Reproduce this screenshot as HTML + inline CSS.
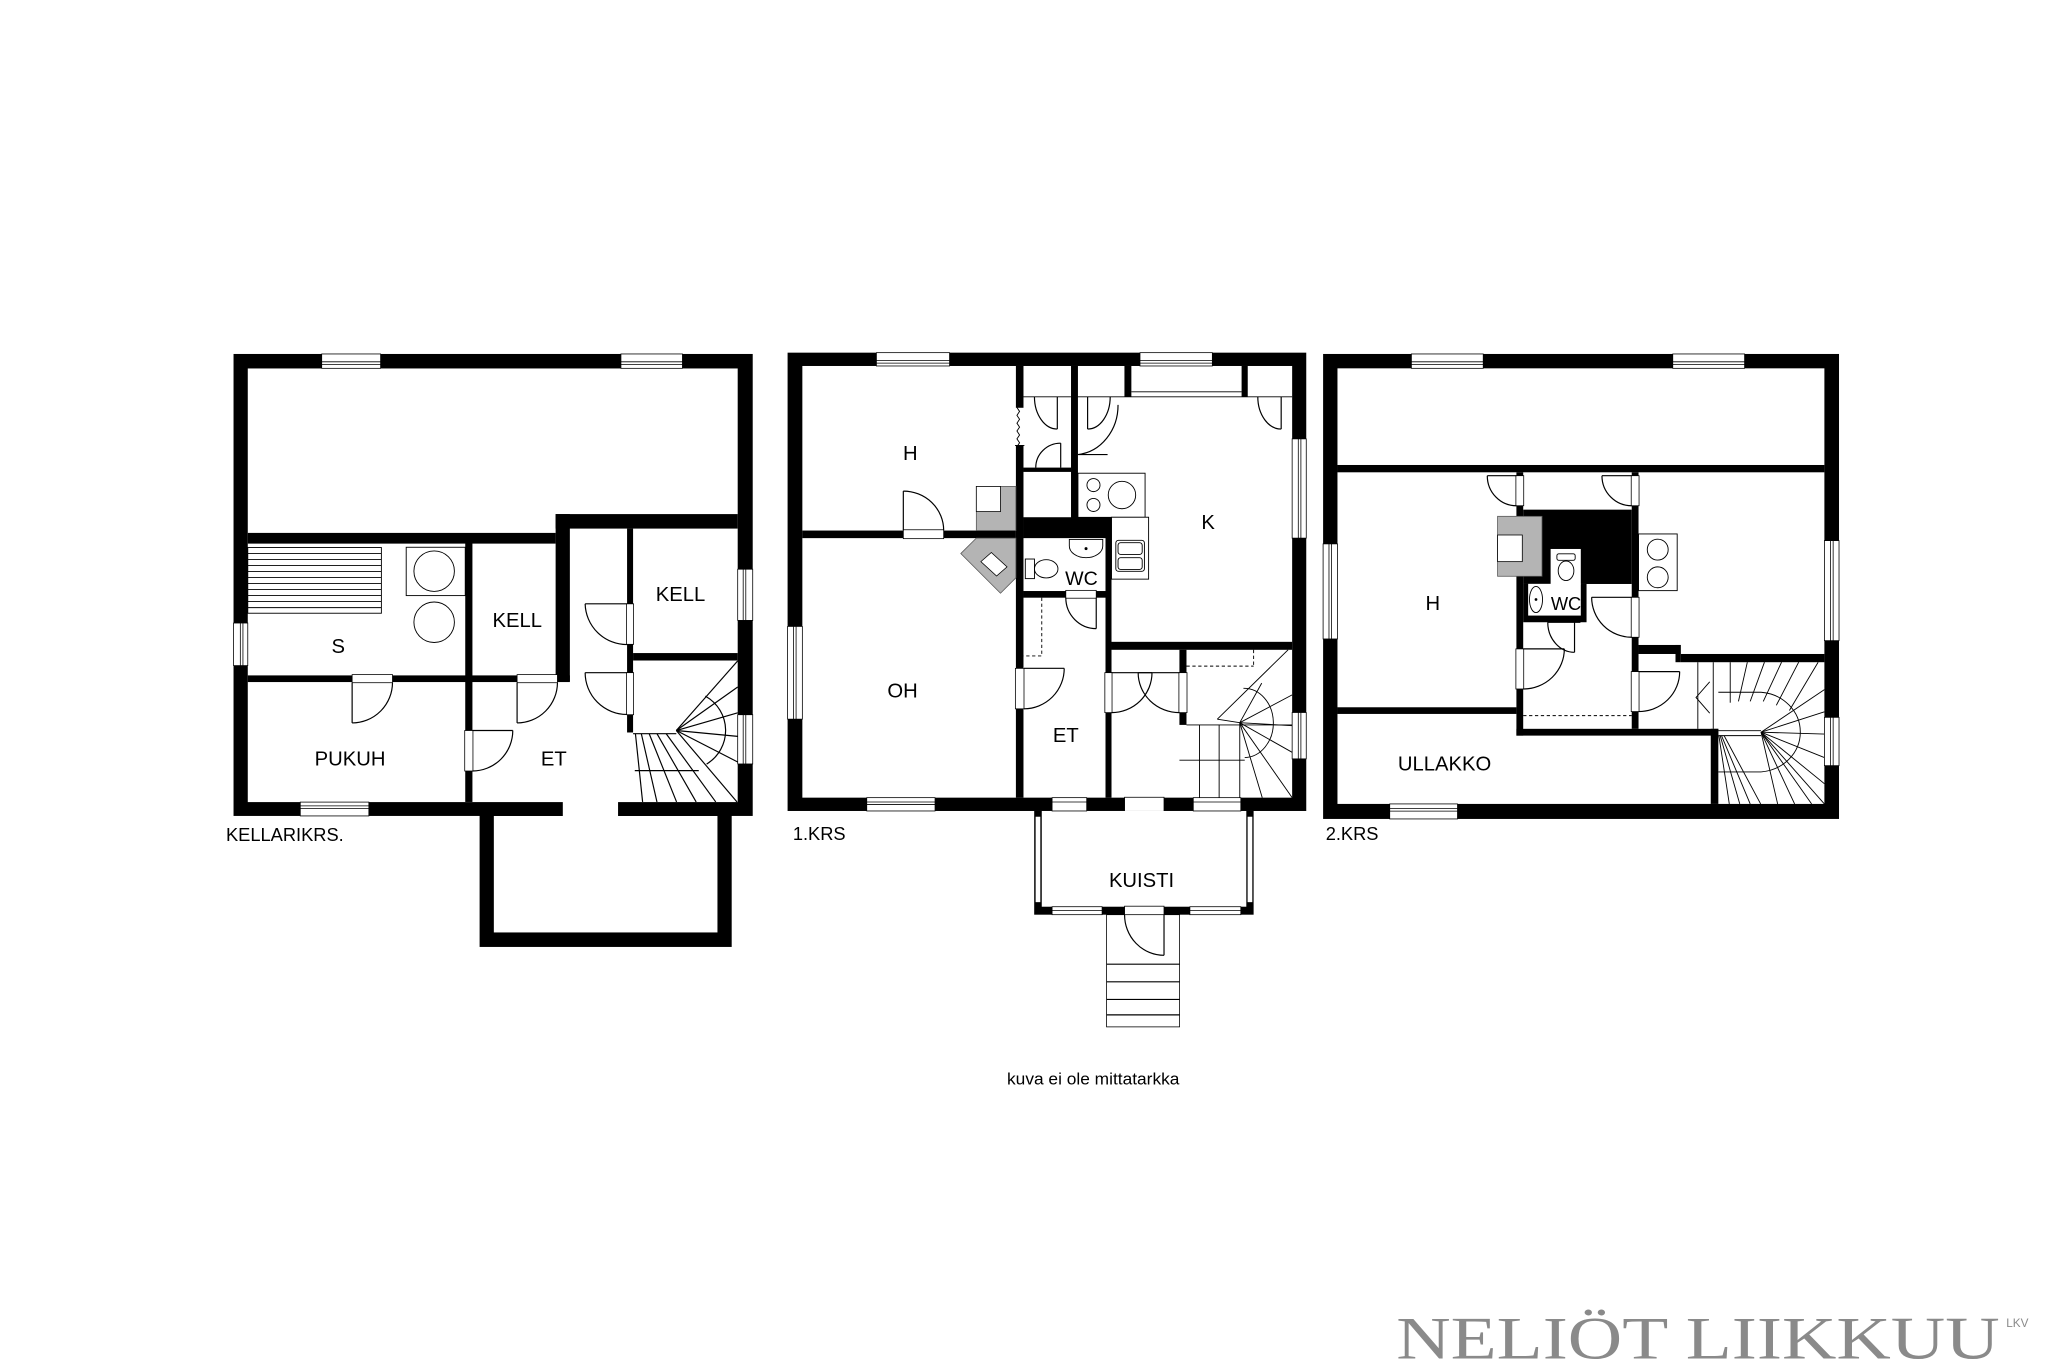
<!DOCTYPE html>
<html><head><meta charset="utf-8"><style>
html,body{margin:0;padding:0;background:#fff;}
svg{display:block;}
text{font-family:"Liberation Sans",Arial,sans-serif;fill:#000;}
</style></head><body>
<svg width="2048" height="1365" viewBox="0 0 1568 1045.07" xmlns="http://www.w3.org/2000/svg">
<rect width="1568" height="1046" fill="#fff"/>
<g stroke-linecap="butt">
<!-- ============ KELLARI ============ -->
<rect x="367.2" y="614" width="193" height="111" fill="#000"/>
<rect x="378.1" y="624.7" width="171.2" height="89.2" fill="#fff"/>
<rect x="178.8" y="271" width="397.5" height="353.7" fill="#000"/>
<rect x="189.7" y="282.1" width="375.1" height="332" fill="#fff"/>
<rect x="430.9" y="613" width="42.3" height="12.5" fill="#fff"/>
<rect x="189.7" y="408" width="235.7" height="8.2" fill="#000"/>
<rect x="425.4" y="393.6" width="10.9" height="128" fill="#000"/>
<rect x="425.4" y="393.6" width="139.4" height="11.1" fill="#000"/>
<rect x="356.2" y="416" width="5.5" height="198" fill="#000"/>
<rect x="189.7" y="517.1" width="246.6" height="5.1" fill="#000"/>
<rect x="480.1" y="404.7" width="4.6" height="156.1" fill="#000"/>
<rect x="484.7" y="500" width="80.1" height="5.7" fill="#000"/>
<!-- benches -->
<g stroke="#000" stroke-width="0.7" fill="none">
<rect x="189.7" y="419.2" width="102.3" height="50.3" fill="#fff"/>
<line x1="189.7" y1="423.8" x2="292" y2="423.8"/><line x1="189.7" y1="428.4" x2="292" y2="428.4"/>
<line x1="189.7" y1="433" x2="292" y2="433"/><line x1="189.7" y1="437.6" x2="292" y2="437.6"/>
<line x1="189.7" y1="442.2" x2="292" y2="442.2"/><line x1="189.7" y1="446.8" x2="292" y2="446.8"/>
<line x1="189.7" y1="451.4" x2="292" y2="451.4"/><line x1="189.7" y1="456" x2="292" y2="456"/>
<line x1="189.7" y1="460.6" x2="292" y2="460.6"/><line x1="189.7" y1="465.2" x2="292" y2="465.2"/>
<rect x="311" y="419" width="45.2" height="37"/>
<circle cx="332.4" cy="437.3" r="15.5"/><circle cx="332.4" cy="476.4" r="15.5"/>
<!-- doors -->
</g>
<rect x="269.6" y="516.5" width="30.9" height="6.2" fill="#fff" stroke="#000" stroke-width="0.6"/>
<rect x="395.9" y="516.5" width="30.9" height="6.2" fill="#fff" stroke="#000" stroke-width="0.6"/>
<rect x="355.8" y="559.3" width="6.3" height="31" fill="#fff" stroke="#000" stroke-width="0.6"/>
<rect x="479.7" y="462.3" width="5.4" height="31" fill="#fff" stroke="#000" stroke-width="0.6"/>
<rect x="479.7" y="515" width="5.4" height="32.2" fill="#fff" stroke="#000" stroke-width="0.6"/>
<g stroke="#000" stroke-width="0.9" fill="none">
<line x1="269.6" y1="522.7" x2="269.6" y2="553.5"/><path d="M300.5,522.7 A31,31 0 0 1 269.6,553.5"/>
<line x1="395.9" y1="522.7" x2="395.9" y2="553.5"/><path d="M426.8,522.7 A31,31 0 0 1 395.9,553.5"/>
<line x1="361.7" y1="559.3" x2="392.6" y2="559.3"/><path d="M392.6,559.3 A31,31 0 0 1 361.7,590.3"/>
<line x1="480" y1="462.3" x2="448" y2="462.3"/><path d="M448,462.3 A32,32 0 0 0 480,493.5"/>
<line x1="480" y1="515" x2="448" y2="515"/><path d="M448,515 A32,32 0 0 0 480,547"/>
<!-- stairs -->
<line x1="484.7" y1="561.7" x2="517.8" y2="561.7"/>
<line x1="517.8" y1="559.3" x2="564.8" y2="506"/>
<line x1="517.8" y1="559.3" x2="564.8" y2="526"/>
<line x1="517.8" y1="559.3" x2="564.8" y2="545.7"/>
<line x1="517.8" y1="559.3" x2="564.8" y2="563.8"/>
<line x1="517.8" y1="559.3" x2="564.8" y2="583.4"/>
<line x1="517.8" y1="559.3" x2="564.3" y2="614"/>
<line x1="510" y1="561.7" x2="548" y2="614"/>
<line x1="503" y1="561.7" x2="533" y2="614"/>
<line x1="497" y1="561.7" x2="518" y2="614"/>
<line x1="491" y1="561.7" x2="503" y2="614"/>
<line x1="486.5" y1="561.7" x2="492" y2="614"/>
<line x1="486" y1="590" x2="535" y2="590"/>
<path d="M540,533 A30,30 0 0 1 541,585"/>
</g>
<!-- windows kellari -->
<g fill="#fff" stroke="#000" stroke-width="0.6">
<rect x="246.3" y="271" width="45.1" height="11"/><line x1="246.3" y1="277" x2="291.4" y2="277"/><line x1="246.3" y1="279" x2="291.4" y2="279"/>
<rect x="475.4" y="271" width="47.1" height="11"/><line x1="475.4" y1="277" x2="522.5" y2="277"/><line x1="475.4" y1="279" x2="522.5" y2="279"/>
<rect x="178.8" y="477" width="10.9" height="32.6"/><line x1="184" y1="477" x2="184" y2="509.6"/><line x1="186" y1="477" x2="186" y2="509.6"/>
<rect x="564.8" y="435.8" width="11.5" height="39.2"/><line x1="569" y1="435.8" x2="569" y2="475"/><line x1="571" y1="435.8" x2="571" y2="475"/>
<rect x="564.8" y="547.2" width="11.5" height="37.7"/><line x1="569" y1="547.2" x2="569" y2="584.9"/><line x1="571" y1="547.2" x2="571" y2="584.9"/>
<rect x="229.9" y="614.1" width="52.5" height="10.6"/><line x1="229.9" y1="617" x2="282.4" y2="617"/><line x1="229.9" y1="619" x2="282.4" y2="619"/>
</g>
<g font-size="15.5" text-anchor="middle">
<text x="259" y="500">S</text>
<text x="396" y="480">KELL</text>
<text x="521" y="460">KELL</text>
<text x="268" y="586">PUKUH</text>
<text x="424" y="586">ET</text>
</g>
<text x="173" y="644" font-size="14">KELLARIKRS.</text>

<!-- ============ 1.KRS ============ -->
<rect x="603" y="270" width="397.1" height="350.9" fill="#000"/>
<rect x="614.3" y="280.2" width="375" height="330.5" fill="#fff"/>
<rect x="614.3" y="406.2" width="163.5" height="5.8" fill="#000"/>
<rect x="777.8" y="280.2" width="5.8" height="32" fill="#000"/>
<rect x="777.8" y="341" width="5.8" height="269.7" fill="#000"/>
<rect x="820" y="280.2" width="5.3" height="116" fill="#000"/>
<rect x="860.9" y="280.2" width="5.3" height="23.6" fill="#000"/>
<rect x="950.6" y="280.2" width="4.7" height="23.6" fill="#000"/>
<rect x="783.6" y="358" width="36.4" height="3.3" fill="#000"/>
<rect x="783.6" y="396" width="67.4" height="16" fill="#000"/>
<rect x="783.6" y="452.5" width="62.8" height="5.1" fill="#000"/>
<rect x="846.4" y="396" width="4.6" height="214.7" fill="#000"/>
<rect x="851" y="491.4" width="138.3" height="6.1" fill="#000"/>
<rect x="903" y="497.5" width="5.4" height="57.5" fill="#000"/>
<g stroke="#000" stroke-width="0.7" fill="none">
<line x1="783.6" y1="303.8" x2="989.3" y2="303.8"/>
<line x1="866.2" y1="300" x2="950.6" y2="300"/>
<!-- zigzag -->
<path d="M778.6,312 l2,3 l-2,3 l2,3 l-2,3 l2,3 l-2,3 l2,3 l-2,3 l2,3 l-2,3"/>
<!-- stove/sink -->
<rect x="825.3" y="362.3" width="51.4" height="33.8" fill="#fff"/>
<circle cx="837.2" cy="371.4" r="5"/><circle cx="837.2" cy="386.6" r="5"/><circle cx="859" cy="379" r="10.5"/>
<rect x="851" y="396" width="28.4" height="47.4" fill="#fff"/>
<rect x="854.3" y="413.7" width="21.9" height="23.7" rx="2"/>
<rect x="856" y="415.5" width="18.5" height="9" rx="2"/><rect x="856" y="427" width="18.5" height="9" rx="2"/>
<!-- WC fixtures -->
<path d="M818.7,413 h25.6 v5 a12.8,9 0 0 1 -25.6,0 z"/>
<circle cx="831.5" cy="420" r="0.8" fill="#000"/>
<rect x="785" y="428" width="7" height="15"/>
<ellipse cx="801" cy="435.5" rx="9" ry="7"/>
<!-- stairs -->
<line x1="908.4" y1="555" x2="989.3" y2="555"/>
<line x1="908.4" y1="510" x2="959.8" y2="510" stroke-dasharray="2.5,2"/>
<line x1="959.8" y1="497.5" x2="959.8" y2="510" stroke-dasharray="2.5,2"/>
<line x1="918.4" y1="555" x2="918.4" y2="610.7"/>
<line x1="933.4" y1="555" x2="933.4" y2="610.7"/>
<line x1="949.2" y1="553.3" x2="949.2" y2="610.7"/>
<line x1="903" y1="582" x2="949.2" y2="582"/>
<line x1="932" y1="550.6" x2="986.2" y2="497.5"/>
<line x1="932" y1="550.6" x2="949.2" y2="553.3"/>
<line x1="949.2" y1="553.3" x2="966" y2="523"/>
<line x1="949.2" y1="553.3" x2="989.3" y2="532"/>
<line x1="949.2" y1="553.3" x2="989.3" y2="555.6"/>
<line x1="949.2" y1="553.3" x2="989.3" y2="576"/>
<line x1="949.2" y1="553.3" x2="989.3" y2="610.7"/>
<line x1="949.2" y1="553.3" x2="966.4" y2="610.7"/>
<path d="M952,527 A22,26 0 0 1 953,580"/>
<line x1="949.2" y1="582" x2="953" y2="582"/>
<!-- dashed ET -->
<path d="M797.6,457.6 V502.2 H783.6" stroke-dasharray="2.5,2"/>
</g>
<!-- fireplace -->
<rect x="747.5" y="372.4" width="30.3" height="33.8" fill="#b4b4b4" stroke="#555" stroke-width="0.6"/>
<rect x="747.5" y="372.4" width="18.5" height="19.3" fill="#fff" stroke="#000" stroke-width="0.6"/>
<polygon points="735.6,423.8 747.5,412 777.8,412 777.8,442.4 766,454.2" fill="#b4b4b4" stroke="#555" stroke-width="0.6"/>
<polygon points="751,430 759,423 771,434 763,441" fill="#fff" stroke="#000" stroke-width="0.6"/>
<!-- door gaps 1.krs -->
<g fill="#fff" stroke="#000" stroke-width="0.6">
<rect x="691.6" y="405.6" width="30.9" height="6.8"/>
<rect x="777.4" y="511.7" width="6.6" height="31"/>
<rect x="816" y="452" width="23.3" height="6"/>
<rect x="845.9" y="515" width="5.5" height="30.6"/>
<rect x="902.6" y="515" width="6.2" height="30.6"/>
<rect x="861" y="610.4" width="30.2" height="10.8"/>
<rect x="777.4" y="341" width="6.6" height="0.1"/>
</g>
<g stroke="#000" stroke-width="0.9" fill="none">
<line x1="691.6" y1="406" x2="691.6" y2="376"/><path d="M691.6,376 A30.9,30 0 0 1 722.5,406"/>
<line x1="784" y1="511.7" x2="814.8" y2="511.7"/><path d="M814.8,511.7 A31,31 0 0 1 784,542.7"/>
<line x1="839.3" y1="457.6" x2="839.3" y2="481.3"/><path d="M816,457.6 A23.3,23.7 0 0 0 839.3,481.3"/>
<line x1="851" y1="515" x2="882" y2="515"/><path d="M882,515 A31,30.6 0 0 1 851,545.6"/>
<line x1="903" y1="515" x2="871.4" y2="515"/><path d="M871.4,515 A31.6,30.6 0 0 0 903,545.6"/>
<line x1="891.2" y1="620.9" x2="891.2" y2="652"/><path d="M861,620.9 A30.2,31 0 0 0 891.2,652"/>
<!-- closet doors -->
<line x1="809.5" y1="303.8" x2="809.5" y2="328.5"/><path d="M792,303.8 A17.5,24.7 0 0 0 809.5,328.5"/>
<line x1="812.1" y1="358" x2="812.1" y2="339.3"/><path d="M793,358 A19,18.7 0 0 1 812.1,339.3"/>
<line x1="832.7" y1="303.8" x2="832.7" y2="328.5"/><path d="M850,303.8 A17.3,24.7 0 0 1 832.7,328.5"/>
<path d="M825.3,348 H848 M856,310 A34,38 0 0 1 825.3,348"/>
<line x1="980.9" y1="303.8" x2="980.9" y2="328.5"/><path d="M963,303.8 A17.9,24.7 0 0 0 980.9,328.5"/>
</g>
<!-- kuisti -->
<rect x="791.8" y="620.9" width="168" height="79.4" fill="#000"/>
<rect x="797.6" y="620.9" width="156.6" height="73.3" fill="#fff"/>
<g fill="#fff" stroke="#000" stroke-width="0.6">
<rect x="792.6" y="625" width="4.2" height="66"/>
<rect x="954.9" y="625" width="4.2" height="66"/>
<rect x="805.5" y="694.2" width="38.3" height="6.1"/><line x1="805.5" y1="697.2" x2="843.8" y2="697.2"/>
<rect x="911" y="694.2" width="39" height="6.1"/><line x1="911" y1="697.2" x2="950" y2="697.2"/>
<rect x="861" y="693.8" width="30.2" height="6.8"/>
<rect x="847.2" y="700.3" width="55.9" height="85.9"/>
</g>
<g stroke="#000" stroke-width="0.9" fill="none">
<line x1="847.2" y1="738.2" x2="903.1" y2="738.2"/><line x1="847.2" y1="751.7" x2="903.1" y2="751.7"/>
<line x1="847.2" y1="765.2" x2="903.1" y2="765.2"/><line x1="847.2" y1="777" x2="903.1" y2="777"/>
<line x1="891.2" y1="700.3" x2="891.2" y2="731.4"/><path d="M861,700.3 A30.2,31 0 0 0 891.2,731.4"/>
</g>
<!-- windows 1.krs -->
<g fill="#fff" stroke="#000" stroke-width="0.6">
<rect x="671" y="270" width="56" height="10.2"/><line x1="671" y1="276" x2="727" y2="276"/><line x1="671" y1="278" x2="727" y2="278"/>
<rect x="872.8" y="270" width="55.4" height="10.2"/><line x1="872.8" y1="276" x2="928.2" y2="276"/><line x1="872.8" y1="278" x2="928.2" y2="278"/>
<rect x="603" y="479.6" width="11.3" height="71"/><line x1="607.5" y1="479.6" x2="607.5" y2="550.6"/><line x1="609.5" y1="479.6" x2="609.5" y2="550.6"/>
<rect x="989.3" y="336" width="10.8" height="76"/><line x1="994" y1="336" x2="994" y2="412"/><line x1="996" y1="336" x2="996" y2="412"/>
<rect x="989.3" y="545.5" width="10.8" height="35.5"/><line x1="994" y1="545.5" x2="994" y2="581"/><line x1="996" y1="545.5" x2="996" y2="581"/>
<rect x="663.6" y="610.7" width="52.3" height="10.2"/><line x1="663.6" y1="614" x2="715.9" y2="614"/><line x1="663.6" y1="616" x2="715.9" y2="616"/>
<rect x="805.5" y="610.7" width="26.5" height="10.2"/><line x1="805.5" y1="614" x2="832" y2="614"/>
<rect x="913.6" y="610.7" width="36.4" height="10.2"/><line x1="913.6" y1="614" x2="950" y2="614"/>
</g>
<g font-size="15.5" text-anchor="middle">
<text x="697" y="352">H</text>
<text x="691" y="534">OH</text>
<text x="816" y="568">ET</text>
<text x="925" y="405">K</text>
<text x="828" y="448" font-size="15">WC</text>
<text x="874" y="679">KUISTI</text>
</g>
<text x="607" y="643" font-size="14">1.KRS</text>

<!-- ============ 2.KRS ============ -->
<rect x="1013" y="271" width="395" height="356" fill="#000"/>
<rect x="1024" y="282" width="372.8" height="333.5" fill="#fff"/>
<rect x="1024" y="356" width="372.8" height="5.6" fill="#000"/>
<rect x="1161" y="361.6" width="5.2" height="201.6" fill="#000"/>
<rect x="1024" y="541.5" width="137" height="5.1" fill="#000"/>
<rect x="1161" y="558" width="154.6" height="5.2" fill="#000"/>
<rect x="1309.8" y="558" width="5.8" height="57.5" fill="#000"/>
<rect x="1249.3" y="361.6" width="5.2" height="196.4" fill="#000"/>
<rect x="1254.5" y="493.8" width="32.3" height="6.9" fill="#000"/>
<rect x="1282.8" y="493.8" width="4" height="13.2" fill="#000"/>
<rect x="1286.8" y="500.7" width="110" height="6.3" fill="#000"/>
<rect x="1166.2" y="390.2" width="83.1" height="56.9" fill="#000"/>
<rect x="1166.2" y="447.1" width="48.5" height="29.3" fill="#000"/>
<rect x="1187.2" y="420.3" width="23.1" height="27" fill="#fff"/>
<rect x="1170" y="447" width="40.3" height="24.3" fill="#fff"/>
<rect x="1146.6" y="395.3" width="34" height="45.9" fill="#b4b4b4" stroke="#555" stroke-width="0.6"/>
<rect x="1146.6" y="409.6" width="18.9" height="20.4" fill="#fff" stroke="#000" stroke-width="0.6"/>
<g stroke="#000" stroke-width="0.7" fill="none">
<rect x="1254.5" y="408.8" width="29.6" height="43.4" fill="#fff"/>
<circle cx="1269.2" cy="420.8" r="8"/><circle cx="1269.2" cy="442" r="8"/>
<rect x="1192" y="424" width="14" height="5" rx="1.5"/>
<ellipse cx="1199" cy="437" rx="6" ry="7.5"/>
<ellipse cx="1176" cy="459" rx="5" ry="10"/>
<circle cx="1176" cy="459" r="0.7" fill="#000"/>
<line x1="1166.2" y1="547.9" x2="1249.3" y2="547.9" stroke-dasharray="2.5,2"/>
<!-- stairs -->
<line x1="1299.9" y1="507" x2="1299.9" y2="558"/>
<line x1="1315.6" y1="559.4" x2="1348.3" y2="559.4"/><line x1="1315.6" y1="563.2" x2="1348.3" y2="563.2"/>
<line x1="1311.7" y1="507" x2="1311.7" y2="558"/>
<line x1="1324.7" y1="507" x2="1324.7" y2="538"/>
<line x1="1337.8" y1="507" x2="1331" y2="537"/>
<line x1="1350.9" y1="507" x2="1340" y2="537"/>
<line x1="1364" y1="507" x2="1350" y2="537"/>
<line x1="1377.1" y1="507" x2="1360" y2="540"/>
<line x1="1392" y1="507" x2="1370" y2="544"/>
<line x1="1348.3" y1="560.6" x2="1396.8" y2="528"/>
<line x1="1348.3" y1="560.6" x2="1396.8" y2="545"/>
<line x1="1348.3" y1="560.6" x2="1396.8" y2="562"/>
<line x1="1348.3" y1="560.6" x2="1396.8" y2="580"/>
<line x1="1348.3" y1="560.6" x2="1396.8" y2="600"/>
<line x1="1348.3" y1="560.6" x2="1396.8" y2="615.5"/>
<line x1="1348.3" y1="560.6" x2="1387" y2="615.5"/>
<line x1="1348.3" y1="560.6" x2="1374" y2="615.5"/>
<line x1="1348.3" y1="560.6" x2="1361" y2="615.5"/>
<line x1="1320" y1="563.2" x2="1348" y2="615.5"/>
<line x1="1318" y1="563.2" x2="1340" y2="615.5"/>
<line x1="1317" y1="563.2" x2="1332" y2="615.5"/>
<line x1="1316" y1="563.2" x2="1324" y2="615.5"/>
<line x1="1315.6" y1="530" x2="1348.3" y2="530"/>
<line x1="1315.6" y1="591" x2="1348.3" y2="591"/>
<path d="M1348.3,530 A32.7,30.6 0 0 1 1348.3,591"/>
<path d="M1309,522 L1298.5,534 L1309,546"/>
</g>
<g fill="#fff" stroke="#000" stroke-width="0.6">
<rect x="1160.6" y="364.2" width="6" height="23"/>
<rect x="1248.9" y="364.2" width="6" height="23"/>
<rect x="1248.9" y="457.3" width="6" height="30.6"/>
<rect x="1160.6" y="496.8" width="6" height="30.7"/>
<rect x="1248.9" y="514.2" width="6" height="30.6"/>
</g>
<g stroke="#000" stroke-width="0.9" fill="none">
<line x1="1161" y1="364.2" x2="1138.7" y2="364.2"/><path d="M1138.7,364.2 A22.3,23 0 0 0 1161,387.2"/>
<line x1="1249.3" y1="364.2" x2="1226.5" y2="364.2"/><path d="M1226.5,364.2 A22.8,23 0 0 0 1249.3,387.2"/>
<line x1="1249.3" y1="457.3" x2="1218.6" y2="457.3"/><path d="M1218.6,457.3 A30.7,30.6 0 0 0 1249.3,487.9"/>
<line x1="1166.2" y1="496.8" x2="1197.7" y2="496.8"/><path d="M1197.7,496.8 A31.5,30.7 0 0 1 1166.2,527.5"/>
<line x1="1254.5" y1="514.2" x2="1286" y2="514.2"/><path d="M1286,514.2 A31.5,30.6 0 0 1 1254.5,544.8"/>
<line x1="1205.5" y1="476.4" x2="1205.5" y2="499.4"/><path d="M1185,476.4 A20.5,23 0 0 0 1205.5,499.4"/>
<line x1="1185" y1="476.4" x2="1210" y2="476.4"/>
</g>
<!-- windows 2.krs -->
<g fill="#fff" stroke="#000" stroke-width="0.6">
<rect x="1080.6" y="271" width="55" height="11"/><line x1="1080.6" y1="277" x2="1135.6" y2="277"/><line x1="1080.6" y1="279" x2="1135.6" y2="279"/>
<rect x="1280.7" y="271" width="55" height="11"/><line x1="1280.7" y1="277" x2="1335.7" y2="277"/><line x1="1280.7" y1="279" x2="1335.7" y2="279"/>
<rect x="1013" y="416.4" width="11" height="72.8"/><line x1="1017.5" y1="416.4" x2="1017.5" y2="489.2"/><line x1="1019.5" y1="416.4" x2="1019.5" y2="489.2"/>
<rect x="1396.8" y="413.9" width="11.2" height="76.6"/><line x1="1401.5" y1="413.9" x2="1401.5" y2="490.5"/><line x1="1403.5" y1="413.9" x2="1403.5" y2="490.5"/>
<rect x="1396.8" y="549.2" width="11.2" height="37"/><line x1="1401.5" y1="549.2" x2="1401.5" y2="586.2"/><line x1="1403.5" y1="549.2" x2="1403.5" y2="586.2"/>
<rect x="1064" y="615.5" width="51.9" height="11.5"/><line x1="1064" y1="619" x2="1115.9" y2="619"/><line x1="1064" y1="621" x2="1115.9" y2="621"/>
</g>
<g font-size="15.5" text-anchor="middle">
<text x="1097" y="467">H</text>
<text x="1106" y="590">ULLAKKO</text>
<text x="1199" y="467" font-size="14">WC</text>
</g>
<text x="1015" y="643" font-size="14">2.KRS</text>

<text x="771" y="830.5" font-size="12.5" textLength="132" lengthAdjust="spacingAndGlyphs">kuva ei ole mittatarkka</text>
<text x="1069" y="1040" font-family="Liberation Serif,serif" font-size="46" fill="#8a8a8a" style="fill:#8a8a8a;font-family:'Liberation Serif',serif" textLength="462" lengthAdjust="spacingAndGlyphs">NELIÖT LIIKKUU</text>
<text x="1536" y="1016" font-size="9" style="fill:#8a8a8a">LKV</text>
</g>
</svg>
</body></html>
